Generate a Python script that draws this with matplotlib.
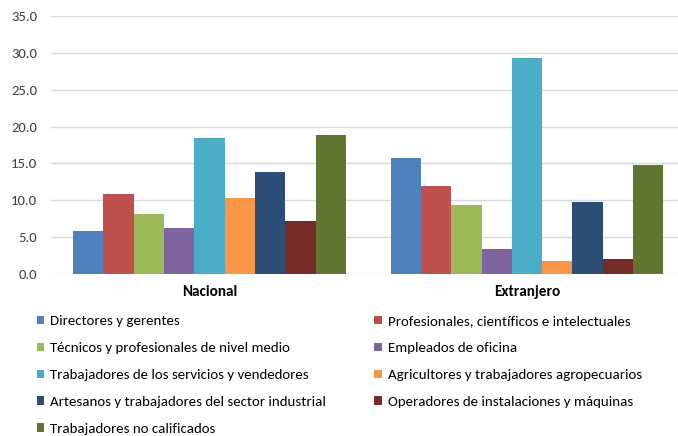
import numpy as np
import matplotlib.pyplot as plt

plt.rcParams['font.family'] = ['Carlito', 'DejaVu Sans']

groups = ["Nacional", "Extranjero"]
occupations = [
    "Directores y gerentes",
    "Profesionales, científicos e intelectuales",
    "Técnicos y profesionales de nivel medio",
    "Empleados de oficina",
    "Trabajadores de los servicios y vendedores",
    "Agricultores y trabajadores agropecuarios",
    "Artesanos y trabajadores del sector industrial",
    "Operadores de instalaciones y máquinas",
    "Trabajadores no calificados",
]
nacional = [5.9, 10.9, 8.1, 6.3, 18.4, 10.3, 13.9, 7.2, 18.8]
extranjero = [15.7, 12.0, 9.3, 3.4, 29.3, 1.8, 9.7, 2.0, 14.8]
colors = ["#4F81BD", "#C0504D", "#9BBB59", "#8064A2", "#4BACC6",
          "#F79646", "#2C4D75", "#772C2A", "#5F7530"]

values = np.array([nacional, extranjero])  # shape (groups, occupations)

fig = plt.figure(figsize=(6.78, 4.36), dpi=100)
ax = fig.add_axes([50.75 / 678, 1 - 274 / 436, 635 / 678, 258 / 436])

n = len(occupations)
width = 0.0955
x = np.arange(len(groups))
handles = []
for i in range(n):
    offs = (i - (n - 1) / 2) * width
    b = ax.bar(x + offs, values[:, i], width, color=colors[i],
               label=occupations[i], linewidth=0, zorder=3)
    handles.append(b)

ax.set_xlim(-0.5, 1.5)
ax.set_ylim(0, 35)
ax.set_yticks(np.arange(0, 35.1, 5))
ax.set_yticklabels([f"{v:.1f}" for v in np.arange(0, 35.1, 5)])
ax.set_xticks(x)
ax.set_xticklabels(groups, fontweight="bold", fontsize=11)
ax.tick_params(axis="y", length=0, labelsize=10.5, colors="#404040", pad=10)
ax.tick_params(axis="x", length=0, pad=8, labelcolor="black")
ax.grid(axis="y", color="#D9D9D9", linewidth=1, zorder=0)
for s in ax.spines.values():
    s.set_visible(False)

# legend in two fixed columns, filled row by row
leg_style = dict(loc="upper left", frameon=False, fontsize=10.7,
                 handlelength=0.5, handleheight=0.5, handletextpad=0.4,
                 labelspacing=1.0, borderaxespad=0, borderpad=0)
for col, x0 in [(0, 0.054), (1, 0.552)]:
    idx = list(range(col, n, 2))
    fig.legend([handles[i] for i in idx], [occupations[i] for i in idx],
               bbox_to_anchor=(x0, 0.2766), **leg_style)

fig.savefig("out.png", dpi=100)
